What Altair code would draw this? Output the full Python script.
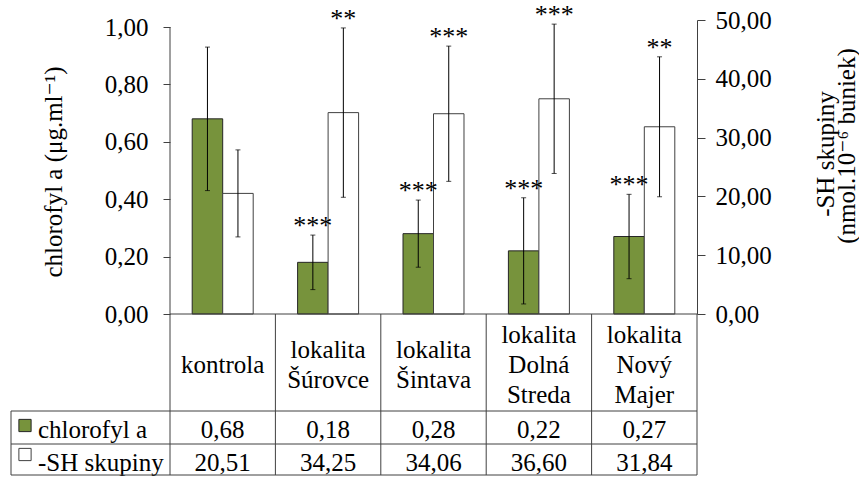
import altair as alt
import pandas as pd

# ---------------- data ----------------
categories = ["kontrola", "lokalita\nŠúrovce", "lokalita\nŠintava",
              "lokalita\nDolná\nStreda", "lokalita\nNový\nMajer"]
series_names = ["chlorofyl a", "-SH skupiny"]

chl_values = [0.68, 0.18, 0.28, 0.22, 0.27]
chl_errors = [0.25, 0.095, 0.117, 0.185, 0.147]
chl_sig = ["", "***", "***", "***", "***"]

sh_values = [20.51, 34.25, 34.06, 36.60, 31.84]
sh_errors = [7.4, 14.4, 11.5, 12.7, 11.9]
sh_sig = ["", "**", "***", "***", "**"]

left_ticks = [0.0, 0.2, 0.4, 0.6, 0.8, 1.0]
right_ticks = [0, 10, 20, 30, 40, 50]

left_title = "chlorofyl a (μg.ml⁻¹)"
right_title = ["-SH skupiny", "(nmol.10⁻⁶ buniek)"]

# ---------------- style ----------------
FONT = "'Liberation Serif', 'Times New Roman', Times, 'DejaVu Serif', serif"
GREEN = "#77933C"
LINE = "#404040"
W, H = 527, 294
PAD = {"left": 170, "top": 20, "right": 859 - 170 - W, "bottom": 477 - 20 - H}
FS = 25


def fmt(v):
    return f"{v:.2f}".replace(".", ",")


chl_df = pd.DataFrame({
    "cat": categories, "series": series_names[0], "value": chl_values,
    "lo": [v - e for v, e in zip(chl_values, chl_errors)],
    "hi": [v + e for v, e in zip(chl_values, chl_errors)],
    "sig": chl_sig, "label": [fmt(v) for v in chl_values],
})
sh_df = pd.DataFrame({
    "cat": categories, "series": series_names[1], "value": sh_values,
    "lo": [v - e for v, e in zip(sh_values, sh_errors)],
    "hi": [v + e for v, e in zip(sh_values, sh_errors)],
    "sig": sh_sig, "label": [fmt(v) for v in sh_values],
})

xscale = alt.Scale(domain=categories, paddingInner=0, paddingOuter=0)
X = alt.X("cat:N", scale=xscale, axis=None, sort=None)
XO = alt.XOffset("series:N", scale=alt.Scale(domain=series_names, paddingInner=0, paddingOuter=0.728))
LS = alt.Scale(domain=[0, 1.0244], nice=False)
RS = alt.Scale(domain=[0, 50], nice=False)

label_expr = "replace(format(datum.value, '.2f'), '.', ',')"

left_axis = alt.Axis(orient="left", values=left_ticks, labelExpr=label_expr, title=None,
                     domain=False, grid=False, tickSize=7, tickColor=LINE,
                     labelFont=FONT, labelFontSize=FS, labelColor="black", labelPadding=15)
right_axis = alt.Axis(orient="right", values=right_ticks, labelExpr=label_expr, title=None,
                      domain=True, domainColor=LINE, grid=False, tickSize=8, tickColor=LINE,
                      labelFont=FONT, labelFontSize=FS, labelColor="black", labelPadding=10)

# bars
green_bar = alt.Chart(chl_df).mark_bar(color=GREEN, stroke="#262626", strokeWidth=1).encode(
    x=X, xOffset=XO, y=alt.Y("value:Q", scale=LS, axis=left_axis))
white_bar = alt.Chart(sh_df).mark_bar(color="white", stroke="#404040", strokeWidth=1).encode(
    x=X, xOffset=XO, y=alt.Y("value:Q", scale=RS, axis=right_axis))


def errs(df, scale):
    rule = alt.Chart(df).mark_rule(color="black", strokeWidth=1).encode(
        x=X, xOffset=XO, y=alt.Y("lo:Q", scale=scale, axis=None), y2="hi:Q")
    cap_hi = alt.Chart(df).mark_tick(color="black", size=5, thickness=1, orient="horizontal").encode(
        x=X, xOffset=XO, y=alt.Y("hi:Q", scale=scale, axis=None))
    cap_lo = alt.Chart(df).mark_tick(color="black", size=5, thickness=1, orient="horizontal").encode(
        x=X, xOffset=XO, y=alt.Y("lo:Q", scale=scale, axis=None))
    sig = alt.Chart(df).mark_text(font=FONT, fontSize=26, baseline="alphabetic", dy=-1, color="black").encode(
        x=X, xOffset=XO, y=alt.Y("hi:Q", scale=scale, axis=None), text="sig:N")
    return [rule, cap_hi, cap_lo, sig]


layers = [green_bar, white_bar] + errs(chl_df, LS) + errs(sh_df, RS)

# ---------------- table ----------------
cat_df = pd.DataFrame({"cat": categories})
cat_text = alt.Chart(cat_df).transform_calculate(
    ypix="344.5 - (length(split(datum.cat, '\\n')) - 1) * 15"
).mark_text(font=FONT, fontSize=FS, lineBreak="\n", lineHeight=30,
            baseline="middle", color="black").encode(
    x=X, y=alt.Y("ypix:Q", scale=None, axis=None), text="cat:N")
chl_text = alt.Chart(chl_df).mark_text(font=FONT, fontSize=FS, baseline="middle", color="black").encode(
    x=X, y=alt.value(409.5), text="label:N")
sh_text = alt.Chart(sh_df).mark_text(font=FONT, fontSize=FS, baseline="middle", color="black").encode(
    x=X, y=alt.value(442.5), text="label:N")

leg1 = alt.Chart(pd.DataFrame({"s": [series_names[0]]})).mark_text(
    font=FONT, fontSize=FS, baseline="middle", align="left", color="black").encode(
    x=alt.value(-132), y=alt.value(409.5), text="s:N")
leg2 = alt.Chart(pd.DataFrame({"s": [series_names[1]]})).mark_text(
    font=FONT, fontSize=FS, baseline="middle", align="left", color="black").encode(
    x=alt.value(-132), y=alt.value(442.5), text="s:N")
sq1 = alt.Chart(pd.DataFrame({"s": [series_names[0]]})).mark_square(
    size=150, fill=GREEN, stroke="#262626", strokeWidth=1, opacity=1).encode(
    x=alt.value(-145), y=alt.value(405.5))
sq2 = alt.Chart(pd.DataFrame({"s": [series_names[1]]})).mark_square(
    size=150, fill="white", stroke="#404040", strokeWidth=1, opacity=1).encode(
    x=alt.value(-145), y=alt.value(434.5))

base = alt.Chart(pd.DataFrame({"a": [0]}))


def hline(y, x0, x1):
    return base.mark_rule(color=LINE, strokeWidth=1).encode(
        x=alt.value(x0), x2=alt.value(x1), y=alt.value(y))


def vline(x, y0, y1):
    return base.mark_rule(color=LINE, strokeWidth=1).encode(
        x=alt.value(x), y=alt.value(y0), y2=alt.value(y1))


lines = [
    hline(H, 0, W),
    hline(391, -159, W), hline(424, -159, W), hline(455, -159, W),
    vline(-159, 391, 455), vline(0, 7, 455), vline(W, H, 455),
]
seps = alt.Chart(pd.DataFrame({"cat": categories[1:]})).mark_rule(color=LINE, strokeWidth=1).encode(
    x=alt.X("cat:N", scale=xscale, axis=None, sort=None, bandPosition=0),
    y=alt.value(H), y2=alt.value(455))

titles = [
    base.mark_text(font=FONT, fontSize=FS, angle=270, align="center", baseline="middle",
                   color="black", text=left_title).encode(x=alt.value(-116), y=alt.value(152)),
    base.mark_text(font=FONT, fontSize=FS, angle=270, align="center", baseline="middle",
                   color="black", text=right_title[0]).encode(x=alt.value(656), y=alt.value(134)),
    base.mark_text(font=FONT, fontSize=FS, angle=270, align="center", baseline="middle",
                   color="black", text=right_title[1]).encode(x=alt.value(677), y=alt.value(126)),
]

chart = alt.layer(*layers, cat_text, chl_text, sh_text, leg1, leg2, sq1, sq2, *lines, seps, *titles).resolve_scale(
    y="independent").properties(
    width=W, height=H, padding=PAD,
    autosize=alt.AutoSizeParams(type="none"),
    background="white",
).configure_view(stroke=None)

chart.save("out.html", embed_options={"renderer": "svg", "actions": False})
